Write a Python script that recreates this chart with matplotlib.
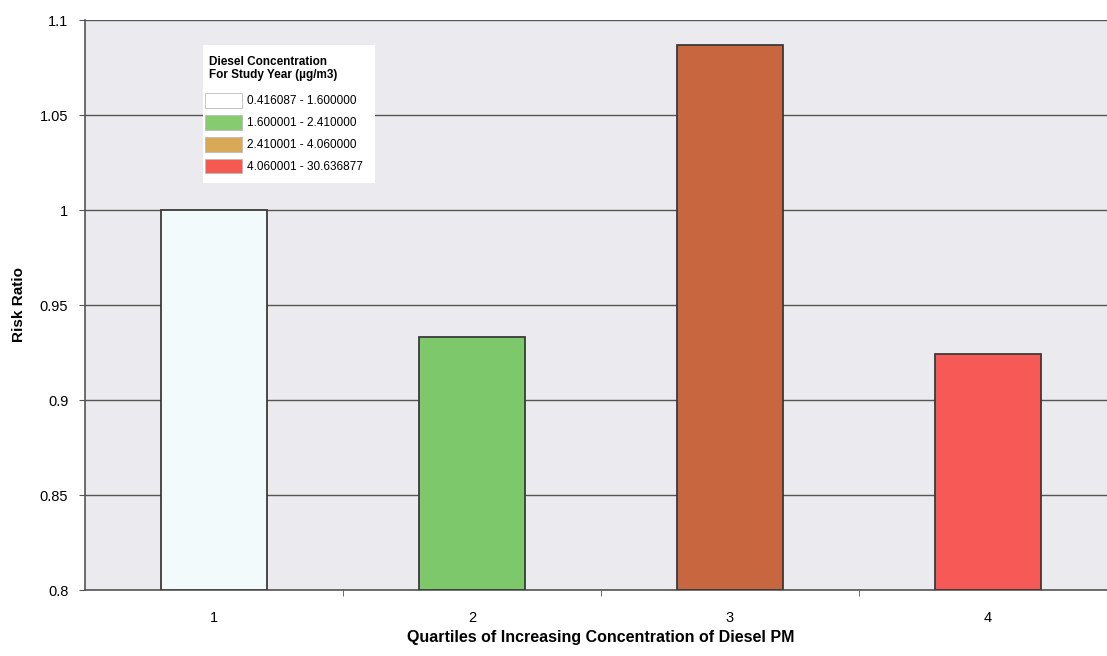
import matplotlib.pyplot as plt
from matplotlib.patches import Patch, Rectangle
import numpy as np

plt.rcParams['font.family'] = ['Liberation Sans', 'DejaVu Sans']

# risk ratio per quartile of diesel PM concentration
quartiles = ['1', '2', '3', '4']
risk_ratio = [1.0, 0.933, 1.087, 0.924]
bar_colors = ['#f3fafc', '#7dc86a', '#c8663f', '#f75a56']

legend_title = 'Diesel Concentration\nFor Study Year (µg/m3)'
legend_labels = ['0.416087 - 1.600000', '1.600001 - 2.410000',
                 '2.410001 - 4.060000', '4.060001 - 30.636877']
legend_colors = ['#ffffff', '#86cc6e', '#d9a95a', '#f45a50']

W, H = 1107, 656
fig = plt.figure(figsize=(W / 100, H / 100), dpi=100)
fig.patch.set_facecolor('white')
ax = fig.add_axes([85 / W, 1 - 590 / H, (1117 - 85) / W, 570 / H])
ax.set_facecolor('#ebebef')

x = np.arange(1, len(quartiles) + 1)
ax.bar(x, np.array(risk_ratio) - 0.8, bottom=0.8, width=0.41,
       color=bar_colors, edgecolor='#3a3a3a', linewidth=1.3, zorder=3)

ax.set_ylim(0.8, 1.1)
ax.set_xlim(0.5, 4.5)
yt = [0.8, 0.85, 0.9, 0.95, 1.0, 1.05, 1.1]
ax.set_yticks(yt)
ax.set_yticklabels(['0.8', '0.85', '0.9', '0.95', '1', '1.05', '1.1'], fontsize=10.5)
ax.yaxis.grid(True, color='#555555', linewidth=1.0, zorder=0)
ax.set_axisbelow(True)

ax.set_xticks(x)
ax.set_xticklabels(quartiles, fontsize=10.5)
ax.tick_params(axis='x', length=0, pad=15)
ax.set_xticks(np.arange(1.5, 4.5, 1), minor=True)
ax.tick_params(axis='x', which='minor', length=4, color='#555555')
ax.tick_params(axis='y', length=4, color='#555555', pad=8)

for s in ['top', 'right']:
    ax.spines[s].set_visible(False)
ax.spines['left'].set_color('#555555')
ax.spines['bottom'].set_color('#555555')
ax.spines['left'].set_linewidth(1.2)
ax.spines['bottom'].set_linewidth(1.2)

ax.set_ylabel('Risk Ratio', fontsize=11, fontweight='bold', labelpad=10)
ax.set_xlabel('Quartiles of Increasing Concentration of Diesel PM',
              fontsize=11.5, fontweight='bold', labelpad=4)

# legend panel: white box, bold title, colour swatches
ax.add_patch(Rectangle((203 / W, 1 - 183 / H), 172 / W, 138 / H,
                       transform=fig.transFigure, facecolor='white',
                       edgecolor='none', zorder=4, clip_on=False))
ax.text(209 / W, 1 - 56 / H, legend_title, transform=fig.transFigure,
        fontsize=8.5, fontweight='bold', va='top', ha='left',
        linespacing=1.15, zorder=6)

handles = [Patch(facecolor=c, edgecolor='#bbbbbb', linewidth=0.6) for c in legend_colors]
leg = ax.legend(handles, legend_labels, fontsize=8.5,
                loc='upper left', bbox_to_anchor=(205 / W, 1 - 93 / H),
                bbox_transform=fig.transFigure, frameon=False,
                handlelength=3.1, handleheight=1.55, labelspacing=0.6,
                handletextpad=0.45, borderpad=0, borderaxespad=0)
leg.set_zorder(5)

plt.savefig('out.png', dpi=100)
